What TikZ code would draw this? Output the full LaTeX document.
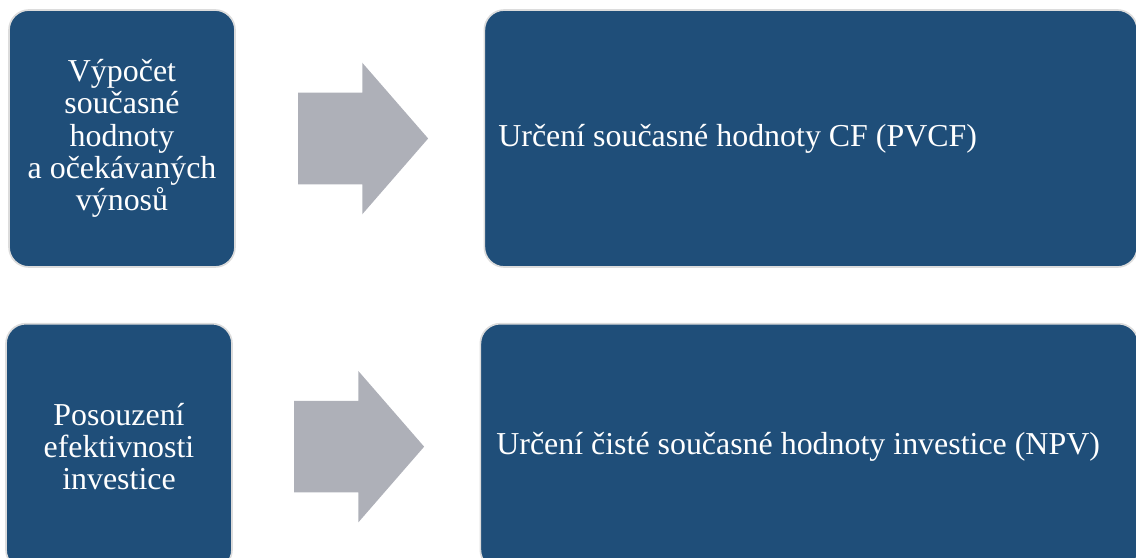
\documentclass[tikz,border=0pt]{standalone}
\usepackage{fontspec}
\setmainfont{Liberation Serif}
\usetikzlibrary{shapes.arrows,positioning}
\definecolor{boxblue}{RGB}{31,78,121}
\definecolor{arrowgray}{RGB}{174,176,184}
\definecolor{edgegray}{RGB}{220,220,220}

\begin{document}
\begin{tikzpicture}

      \tikzstyle{stepbox}=[rectangle,rounded corners=0.5cm,
        fill=boxblue,draw=edgegray,line width=1.2pt,text=white,
        font=\fontsize{22.7}{23}\selectfont,
        execute at begin node={\spaceskip=0pt\xspaceskip=0pt\relax}]
      \tikzstyle{bigarrow}=[single arrow,fill=arrowgray,
        minimum height=3.25cm,inner xsep=0pt,inner ysep=1.1375cm,
        single arrow head extend=0.75cm,
        single arrow tip angle=98]

      \clip (0,0) rectangle (28.4,-13.95);

      \node(VYPOCET1)[stepbox,minimum width=5.65cm,
        minimum height=6.425cm,align=center] at (3.05,-3.4625)
        {Výpočet\\současné\\hodnoty\\a očekávaných\\výnosů};
      \node(SIPKA1)[bigarrow,right=1.55cm of VYPOCET1]{};
      \node(PVCF1)[stepbox,right=1.375cm of SIPKA1,
        minimum width=16.325cm,minimum height=6.425cm,
        inner xsep=0.35cm,text width=15.625cm,align=left]
        {Určení současné hodnoty CF (PVCF)};

      \node(POSOUZENI2)[stepbox,below=1.375cm of VYPOCET1,
        xshift=-0.075cm,minimum width=5.65cm,
        minimum height=6.15cm,align=center]
        {Posouzení\\efektivnosti\\investice};
      \node(SIPKA2)[bigarrow,right=1.525cm of POSOUZENI2]{};
      \node(NPV2)[stepbox,right=1.375cm of SIPKA2,
        minimum width=16.45cm,minimum height=6.15cm,
        inner xsep=0.4cm,text width=15.65cm,align=left]
        {Určení čisté současné hodnoty investice (NPV)};

    \end{tikzpicture}
\end{document}
